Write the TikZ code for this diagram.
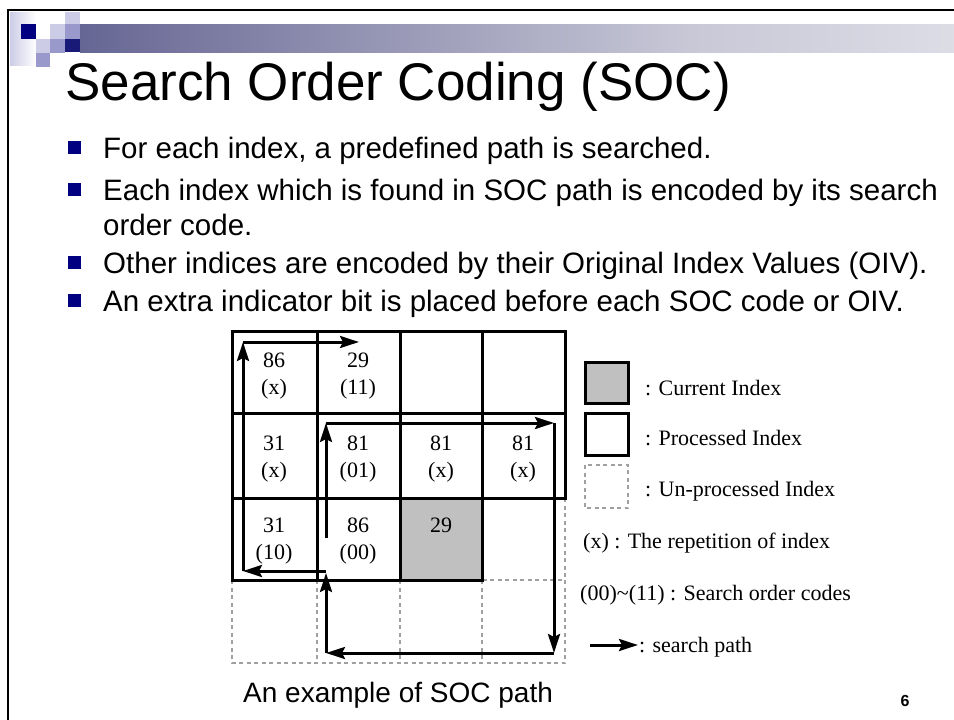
\documentclass[tikz,border=0pt]{standalone}
\usepackage{fontspec}
\setmainfont{Liberation Serif}
\setsansfont{Liberation Sans}
\usepackage{tikz}
\usetikzlibrary{arrows.meta}
\definecolor{socNavy}{RGB}{0, 0, 128}
\definecolor{socLav}{RGB}{204, 204, 230}
\definecolor{socMid}{RGB}{153, 153, 204}
\definecolor{socGray}{RGB}{192, 192, 192}
\definecolor{socDash}{RGB}{160, 160, 160}
\definecolor{barNavy}{RGB}{25, 25, 120}
\definecolor{barMid}{RGB}{105, 105, 150}
\definecolor{barPale}{RGB}{200, 200, 215}
\pgfdeclarehorizontalshading{hdrbar}{100bp}{color(0bp)=(barNavy); color(26bp)=(barMid); color(60bp)=(barPale); color(100bp)=(white)}

\begin{document}
\begin{tikzpicture}[x=1pt, y=-1pt,
  title/.style={anchor=base west, inner sep=0, font=\sffamily\fontsize{53}{60}\selectfont},
  blt/.style={anchor=base west, inner sep=0, font=\sffamily\fontsize{29.5}{35}\selectfont},
  bmark/.style={fill=socNavy, minimum size=13pt, inner sep=0},
  cellnum/.style={anchor=north, inner sep=0, align=center, font=\fontsize{22}{27}\selectfont},
  legtext/.style={anchor=base west, inner sep=0, font=\fontsize{22}{27}\selectfont},
  proc/.style={line width=3pt},
  unproc/.style={line width=2.4pt, socDash, dash pattern=on 4pt off 3.5pt},
  srch/.style={line width=3pt, arrows={-Stealth[length=19pt, width=12pt, inset=3pt]}},
]
  \useasboundingbox (0,0) rectangle (954,720);

  % slide frame and header
  \draw[line width=2.5pt] (8,720) -- (8,10) -- (954,10);
  \fill[left color=socLav, right color=white] (10,12) rectangle (36,65);
  \fill[shading=hdrbar] (80,24) rectangle (954,52);
  \fill[barNavy] (65,39) rectangle (80,52);
  \fill[socNavy] (21,24) rectangle (36,39);
  \fill[socLav] (65,12) rectangle (80,24);
  \fill[socLav] (50,24) rectangle (65,39);
  \fill[socLav] (36,39) rectangle (50,53);
  \fill[socMid] (65,24) rectangle (80,39);
  \fill[socMid] (50,39) rectangle (65,53);
  \fill[socMid] (36,53) rectangle (50,67);

  \node[title] (ttl) at (65,100) {Search Order Coding (SOC)};

  % bullets
  \node[bmark] (m1) at (74,147) {};
  \node[blt] (b1) at (103,158) {For each index, a predefined path is searched.};
  \node[bmark] (m2) at (74,189) {};
  \node[blt] (b2) at (103,200) {Each index which is found in SOC path is encoded by its search};
  \node[blt] (b2b) at (103,235) {order code.};
  \node[bmark] (m3) at (74,262) {};
  \node[blt] (b3) at (103,273) {Other indices are encoded by their Original Index Values (OIV).};
  \node[bmark] (m4) at (74,300) {};
  \node[blt] (b4) at (103,311) {An extra indicator bit is placed before each SOC code or OIV.};

  % grid
  \fill[socGray] (400,498) rectangle (482,580);
  \draw[unproc] (232,580) rectangle (565,663);
  \foreach \x in {317,400,482}
    \draw[unproc] (\x,580) -- (\x,663);
  \draw[unproc] (565,498) -- (565,580);
  \draw[proc] (232,331) rectangle (565,498);
  \draw[proc] (232,498) -- (232,580) -- (482,580) -- (482,498);
  \draw[proc] (232,413) -- (565,413);
  \foreach \x in {317,400,482}
    \draw[proc] (\x,331) -- (\x,580);

  \node[cellnum] (c11) at (274,353) {86\\(x)};
  \node[cellnum] (c21) at (358,353) {29\\(11)};
  \node[cellnum] (c12) at (274,436) {31\\(x)};
  \node[cellnum] (c22) at (358,436) {81\\(01)};
  \node[cellnum] (c32) at (441,436) {81\\(x)};
  \node[cellnum] (c42) at (523,436) {81\\(x)};
  \node[cellnum] (c13) at (274,518) {31\\(10)};
  \node[cellnum] (c23) at (358,518) {86\\(00)};
  \node[cellnum] (c33) at (441,518) {29};

  % search path
  \coordinate (p0) at (326,538);
  \coordinate (p1) at (326,423);
  \coordinate (p2) at (554,423);
  \coordinate (p3) at (554,653);
  \coordinate (p4) at (326,653);
  \coordinate (p5) at (326,571);
  \coordinate (p6) at (243,571);
  \coordinate (p7) at (243,342);
  \coordinate (p8) at (359,342);
  \draw[srch] (p0) -- (p1);
  \draw[srch] (p1) -- (p2);
  \draw[srch] (p2) -- (p3);
  \draw[srch] (p3) -- (p4);
  \draw[srch] (p4) -- ([yshift=-2pt]p5);
  \draw[srch] (p5) -- (p6);
  \draw[srch] (p6) -- (p7);
  \draw[srch] (p7) -- (p8);

  % legend
  \draw[line width=3pt, fill=socGray] (585,362) rectangle (628,403);
  \draw[line width=3pt] (585,413) rectangle (628,455);
  \draw[unproc] (585,465) rectangle (628,508);
  \node[legtext] (l1) at (645,395) {: Current Index};
  \node[legtext] (l2) at (645,445) {: Processed Index};
  \node[legtext] (l3) at (645,496) {: Un-processed Index};
  \node[legtext] (l4) at (583,548) {(x) : The repetition of index};
  \node[legtext] (l5) at (580,600) {(00)\textasciitilde(11) : Search order codes};
  \coordinate (la) at (590,645);
  \coordinate (lb) at (638,645);
  \draw[srch] (la) -- (lb);
  \node[legtext] (l6) at (639,652) {: search path};

  \node[anchor=base west, inner sep=0, font=\sffamily\fontsize{28}{32}\selectfont] (cap) at (243,702) {An example of SOC path};
  \node[anchor=base, inner sep=0, font=\sffamily\bfseries\fontsize{16}{18}\selectfont] (pgno) at (905,706) {6};
\end{tikzpicture}
\end{document}
